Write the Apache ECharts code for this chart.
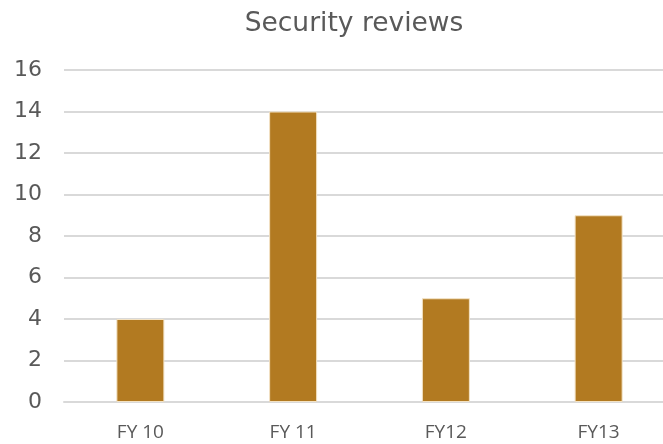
<!DOCTYPE html>
<html>
<head>
<meta charset="utf-8">
<script src="https://cdn.jsdelivr.net/npm/echarts@6/dist/echarts.min.js"></script>
<style>html,body{margin:0;padding:0;background:#fff}#c{width:663px;height:444px}</style>
</head>
<body>
<div id="c"></div>
<script>
const categories = ['FY 10', 'FY 11', 'FY12', 'FY13'];
const reviews = [4, 14, 5, 9];
const yTicks = [0, 2, 4, 6, 8, 10, 12, 14, 16];

const chart = echarts.init(document.getElementById('c'), null, {renderer: 'canvas'});
chart.setOption({
  animation: false,
  backgroundColor: '#ffffff',
  title: {
    text: 'Security reviews',
    left: 349,
    textAlign: 'center',
    top: 6,
    textStyle: {fontFamily: 'DejaVu Sans', fontSize: 26.5, fontWeight: 'normal', color: '#595959'}
  },
  grid: {left: 64, right: -12, top: 70, bottom: 42, outerBoundsMode: 'none', containLabel: false},
  xAxis: {
    type: 'category',
    data: categories,
    axisLine: {show: true, lineStyle: {color: '#d9d9d9', width: 2}},
    axisTick: {show: false},
    axisLabel: {fontFamily: 'Open Sans', fontSize: 19, color: '#595959', margin: 21}
  },
  yAxis: {
    type: 'value',
    min: yTicks[0],
    max: yTicks[yTicks.length - 1],
    interval: 2,
    axisLine: {show: false},
    axisTick: {show: false},
    splitLine: {lineStyle: {color: '#d9d9d9', width: 2}},
    axisLabel: {fontFamily: 'DejaVu Sans', fontSize: 22, color: '#595959', margin: 22}
  },
  series: [{
    type: 'bar',
    data: reviews,
    barWidth: 48,
    itemStyle: {color: '#B27A21', borderColor: '#f3e2c4', borderWidth: 1}
  }]
});
</script>
</body>
</html>
